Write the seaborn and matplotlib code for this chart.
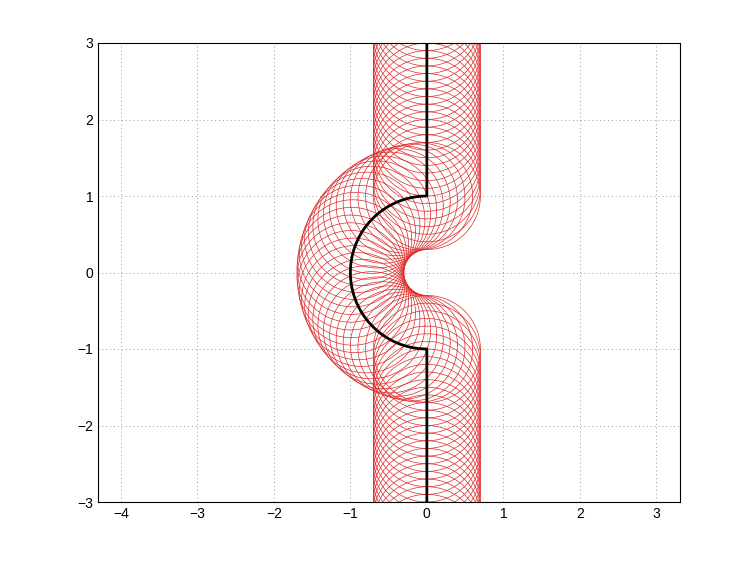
import numpy as np
import pandas as pd
import matplotlib
matplotlib.use("Agg")
import matplotlib.pyplot as plt
import seaborn as sns

# Path description (black curve): straight top, half-circle bump to the left, straight bottom
top_segment_y = [3.8, 1.0]        # x = 0
arc_center = [0.0, 0.0]
arc_radius = 1.0
arc_angles_deg = [90, 270]
bottom_segment_y = [-1.0, -3.8]   # x = 0
circle_radius = 0.7
center_spacing = 0.1
x_ticks = [-4, -3, -2, -1, 0, 1, 2, 3]
y_ticks = [-3, -2, -1, 0, 1, 2, 3]

# build the path of circle centres
n_top = int(round((top_segment_y[0] - top_segment_y[1]) / center_spacing))
top_y = np.linspace(top_segment_y[0], top_segment_y[1], n_top + 1)
top = np.column_stack([np.zeros_like(top_y), top_y])
arc_len = np.deg2rad(arc_angles_deg[1] - arc_angles_deg[0]) * arc_radius
n_arc = int(round(arc_len / center_spacing))
th = np.deg2rad(np.linspace(arc_angles_deg[0], arc_angles_deg[1], n_arc + 1))
arc = np.column_stack([arc_center[0] + arc_radius * np.cos(th),
                       arc_center[1] + arc_radius * np.sin(th)])
n_bot = int(round((bottom_segment_y[0] - bottom_segment_y[1]) / center_spacing))
bot_y = np.linspace(bottom_segment_y[0], bottom_segment_y[1], n_bot + 1)
bot = np.column_stack([np.zeros_like(bot_y), bot_y])
centers = np.vstack([top, arc[1:], bot[1:]])

# fine path for black line
th_f = np.deg2rad(np.linspace(arc_angles_deg[0], arc_angles_deg[1], 200))
path = np.vstack([[[0, 3.0], [0, 1.0]],
                  np.column_stack([arc_radius * np.cos(th_f), arc_radius * np.sin(th_f)]),
                  [[0, -1.0], [0, -3.0]]])
path_df = pd.DataFrame({"x": path[:, 0], "y": path[:, 1], "order": np.arange(len(path))})

phi = np.linspace(0, 2 * np.pi, 181)
rows = []
for i, (cx, cy) in enumerate(centers):
    rows.append(pd.DataFrame({"x": cx + circle_radius * np.cos(phi),
                              "y": cy + circle_radius * np.sin(phi),
                              "id": i}))
circ_df = pd.concat(rows, ignore_index=True)

sns.set_style("white")
plt.rcParams["font.family"] = ["Liberation Sans", "DejaVu Sans"]

fig = plt.figure(figsize=(7.51, 5.64), dpi=100)
ax = fig.add_axes([98 / 751, 62 / 564, 582 / 751, 459 / 564])

sns.lineplot(data=circ_df, x="x", y="y", units="id", estimator=None, sort=False,
             color="#dd2a2a", linewidth=0.5, ax=ax, legend=False)
sns.lineplot(data=path_df, x="x", y="y", sort=False, estimator=None,
             color="black", linewidth=2.0, ax=ax, legend=False)

ax.set_xlim(-4.30, 3.31)
ax.set_ylim(-3, 3)
ax.set_xticks(x_ticks)
ax.set_yticks(y_ticks)
ax.set_xticklabels([f"{t}".replace("-", "\u2212") for t in x_ticks])
ax.set_yticklabels([f"{t}".replace("-", "\u2212") for t in y_ticks])
ax.set_xlabel("")
ax.set_ylabel("")
ax.grid(True, linestyle=(0, (1, 3)), color="#999999", linewidth=0.7)
ax.set_axisbelow(True)
ax.tick_params(direction="in", length=4, labelsize=10, colors="black", width=0.6)
for s in ax.spines.values():
    s.set_color("black")
    s.set_linewidth(0.8)

fig.savefig("out.png", dpi=100)
